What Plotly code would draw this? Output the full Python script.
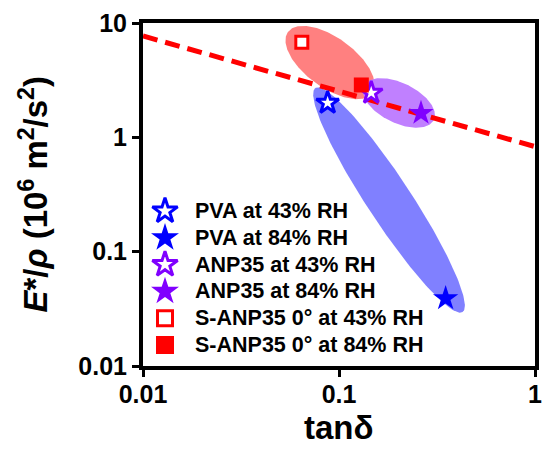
import numpy as np
import plotly.graph_objects as go

# ---------------- data ----------------
series_names = ["PVA at 43% RH", "PVA at 84% RH", "ANP35 at 43% RH",
                "ANP35 at 84% RH", "S-ANP35 0° at 43% RH", "S-ANP35 0° at 84% RH"]
tan_delta = [0.0875, 0.35, 0.146, 0.262, 0.0646, 0.130]
e_over_rho = [2.0, 0.039, 2.45, 1.63, 6.8, 2.87]

trend_x = [0.01, 1.0]
trend_y = [7.7, 0.83]

# highlight ellipses: centre (tanδ, E*/ρ)
ell_names = ["S-ANP35", "PVA", "ANP35"]
ell_cx = [0.090, 0.180, 0.202]
ell_cy = [4.51, 0.283, 2.0]

x_ticks = [0.01, 0.1, 1]
x_ticktext = ["0.01", "0.1", "1"]
y_ticks = [0.01, 0.1, 1, 10]
y_ticktext = ["0.01", "0.1", "1", "10"]

# ---------------- layout constants ----------------
W, H = 542, 451
ML, MR, MT, MB = 143, 7, 23, 85
PW, PH = W - ML - MR, H - MT - MB
PX_DEC_X = PW / 2.0   # x range spans 2 decades
PX_DEC_Y = PH / 3.0   # y range spans 3 decades

FONT = "Liberation Sans, Arial, sans-serif"
BLUE = "#0000ff"
PURPLE = "#8000ff"
RED = "#ff0000"

# ellipse geometry (pixels: semi-major, semi-minor, angle deg)
ell_a = [52, 134, 39]
ell_b = [25, 22, 20]
ell_ang = [-36, -56.7, -26]
ell_col = ["#ff8080", "#8080ff", "#c080ff"]

marker_symbol = ["star", "star", "star", "star", "square", "square"]
marker_fill = ["white", BLUE, "white", PURPLE, "white", RED]
marker_line = [BLUE, BLUE, PURPLE, PURPLE, RED, RED]
marker_lw = [3, 0, 3, 0, 3, 0]
marker_size = [17, 19, 17, 19, 12, 15]

fig = go.Figure()

t = np.linspace(0, 2 * np.pi, 200)
for i in range(3):
    th = np.deg2rad(ell_ang[i])
    dx = ell_a[i] * np.cos(t) * np.cos(th) - ell_b[i] * np.sin(t) * np.sin(th)
    dy = ell_a[i] * np.cos(t) * np.sin(th) + ell_b[i] * np.sin(t) * np.cos(th)
    ex = 10 ** (np.log10(ell_cx[i]) + dx / PX_DEC_X)
    ey = 10 ** (np.log10(ell_cy[i]) + dy / PX_DEC_Y)
    fig.add_trace(go.Scatter(x=ex, y=ey, mode="lines", fill="toself",
                             fillcolor=ell_col[i], line=dict(width=0),
                             showlegend=False, hoverinfo="skip", name=ell_names[i]))

fig.add_trace(go.Scatter(x=trend_x, y=trend_y, mode="lines",
                         line=dict(color=RED, width=5, dash="15px,8px"),
                         showlegend=False, hoverinfo="skip"))

for i in range(6):
    fig.add_trace(go.Scatter(
        x=[tan_delta[i]], y=[e_over_rho[i]], mode="markers", name=series_names[i],
        marker=dict(symbol=marker_symbol[i], size=marker_size[i], color=marker_fill[i],
                    line=dict(color=marker_line[i], width=marker_lw[i])),
        showlegend=False))

# manual legend (pixel positions converted to paper fractions)
leg_x = 165
leg_text_x = 193
leg_y0 = 211
leg_dy = 26.8
leg_size = [19, 21, 19, 21, 15, 18]
for i in range(6):
    ypix = leg_y0 + i * leg_dy
    fig.add_trace(go.Scatter(
        x=[leg_x], y=[ypix], xaxis="x2", yaxis="y2", mode="markers",
        marker=dict(symbol=marker_symbol[i], size=leg_size[i], color=marker_fill[i],
                    line=dict(color=marker_line[i], width=marker_lw[i])),
        showlegend=False, hoverinfo="skip"))
    fig.add_annotation(x=(leg_text_x - ML) / PW, y=1 - (ypix - MT) / PH,
                       xref="paper", yref="paper",
                       text="<b>" + series_names[i] + "</b>", showarrow=False,
                       xanchor="left", yanchor="middle",
                       font=dict(family=FONT, size=21.5, color="black"))

axis_common = dict(showline=True, linecolor="black", linewidth=4, mirror=True,
                   ticks="outside", ticklen=7, tickwidth=3, tickcolor="black",
                   showgrid=False, zeroline=False, automargin=False,
                   ticklabeloverflow="allow",
                   tickfont=dict(family=FONT, size=25, color="black", weight="bold"))

fig.update_layout(
    width=W, height=H,
    margin=dict(l=ML, r=MR, t=MT, b=MB),
    paper_bgcolor="white", plot_bgcolor="white",
    showlegend=False,
    xaxis=dict(type="log", range=[-2, 0], tickvals=x_ticks, ticktext=x_ticktext,
               ticklabelstandoff=-4, **axis_common),
    yaxis=dict(type="log", range=[-2, 1], tickvals=y_ticks, ticktext=y_ticktext,
               **axis_common),
    xaxis2=dict(overlaying="x", range=[ML, W - MR], visible=False, anchor="y2",
                automargin=False),
    yaxis2=dict(overlaying="y", range=[H - MB, MT], visible=False, anchor="x2",
                automargin=False),
)

fig.add_annotation(x=0.5, y=-(428 - (H - MB)) / PH, xref="paper", yref="paper",
                   text="<b>tanδ</b>", showarrow=False, xanchor="center", yanchor="middle",
                   font=dict(family=FONT, size=33, color="black"))
fig.add_annotation(x=(33 - ML) / PW, y=0.5, xref="paper", yref="paper",
                   text="<b><i>E</i>*/<i>ρ</i> (10<sup>6</sup> m<sup>2</sup>/s<sup>2</sup>)</b>",
                   showarrow=False, textangle=-90, xanchor="center", yanchor="middle",
                   font=dict(family=FONT, size=33, color="black"))

fig.write_html("out.html")
